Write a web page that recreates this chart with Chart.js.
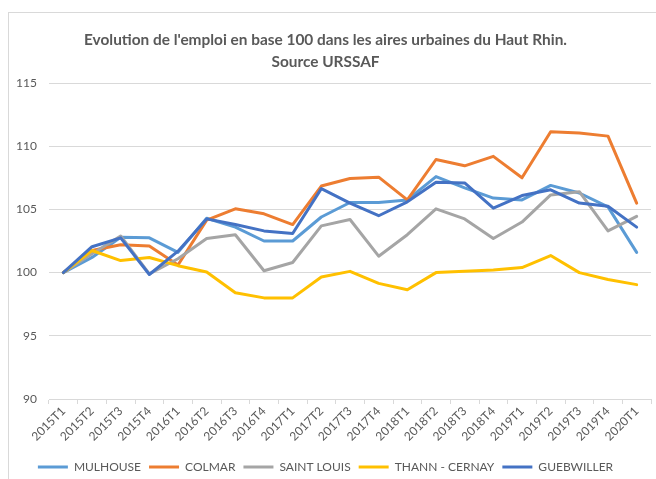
<!DOCTYPE html>
<html>
<head>
<meta charset="utf-8">
<script src="https://cdn.jsdelivr.net/npm/chart.js@4/dist/chart.umd.min.js"></script>
<style>
  html, body { margin: 0; padding: 0; background: #ffffff; }
  #wrap { width: 656px; height: 479px; position: relative; }
</style>
</head>
<body>
<div id="wrap"><canvas id="c" width="656" height="479"></canvas></div>
<script>
const categories = ['2015T1','2015T2','2015T3','2015T4','2016T1','2016T2','2016T3','2016T4','2017T1','2017T2','2017T3','2017T4','2018T1','2018T2','2018T3','2018T4','2019T1','2019T2','2019T3','2019T4','2020T1'];
const mulhouse   = [100, 101.2, 102.8, 102.75, 101.6, 104.3, 103.6, 102.5, 102.5, 104.4, 105.55, 105.55, 105.75, 107.6, 106.7, 105.9, 105.75, 106.9, 106.3, 105.2, 101.6];
const colmar     = [100, 101.75, 102.2, 102.1, 100.6, 104.15, 105.05, 104.65, 103.8, 106.85, 107.45, 107.55, 105.75, 108.95, 108.45, 109.2, 107.5, 111.15, 111.05, 110.8, 105.5];
const saintLouis = [100, 101.5, 102.9, 99.9, 101.1, 102.7, 103.0, 100.15, 100.8, 103.7, 104.2, 101.3, 103.0, 105.05, 104.25, 102.7, 104.0, 106.15, 106.4, 103.3, 104.45];
const thannCernay= [100, 101.75, 100.95, 101.2, 100.55, 100.05, 98.4, 98.0, 98.0, 99.65, 100.1, 99.15, 98.65, 100.0, 100.1, 100.2, 100.4, 101.35, 100.0, 99.45, 99.05];
const guebwiller = [100, 102.05, 102.75, 99.85, 101.7, 104.25, 103.8, 103.3, 103.1, 106.65, 105.5, 104.5, 105.6, 107.15, 107.1, 105.1, 106.1, 106.55, 105.5, 105.25, 103.6];
const seriesNames = ['MULHOUSE', 'COLMAR', 'SAINT LOUIS', 'THANN - CERNAY', 'GUEBWILLER'];
const titleLines = ["Evolution de l'emploi en base 100 dans les aires urbaines du Haut Rhin.", 'Source URSSAF'];

const colors = ['#5B9BD5', '#ED7D31', '#A5A5A5', '#FFC000', '#4472C4'];
const values = [mulhouse, colmar, saintLouis, thannCernay, guebwiller];
const FONT = 'Lato, "Open Sans", sans-serif';
const TXT = '#595959';
const GRID = '#d9d9d9';

const frame = {
  id: 'frame',
  beforeDraw(chart) {
    const ctx = chart.ctx;
    ctx.save();
    ctx.fillStyle = '#ffffff';
    ctx.fillRect(0, 0, chart.width, chart.height);
    ctx.strokeStyle = GRID;
    ctx.lineWidth = 1;
    ctx.strokeRect(8.5, 12.5, 700, 500);
    ctx.restore();
  }
};

new Chart(document.getElementById('c'), {
  type: 'line',
  data: {
    labels: categories,
    datasets: values.map((v, i) => ({
      label: seriesNames[i],
      data: v,
      borderColor: colors[i],
      backgroundColor: colors[i],
      borderWidth: 3,
      pointRadius: 0,
      pointHoverRadius: 0,
      tension: 0,
      fill: false,
      borderJoinStyle: 'round',
      borderCapStyle: 'round',
      order: values.length - i
    }))
  },
  options: {
    responsive: false,
    animation: false,
    devicePixelRatio: 1,
    layout: { padding: { left: 0, right: 5, top: 0, bottom: -4 } },
    plugins: {
      tooltip: { enabled: false },
      title: {
        display: true,
        text: titleLines,
        color: TXT,
        font: { family: FONT, size: 15.4, weight: 'bold', lineHeight: 1.42 },
        padding: { top: 29, bottom: 10.3 }
      },
      legend: {
        position: 'bottom',
        labels: {
          color: TXT,
          font: { family: FONT, size: 12 },
          usePointStyle: true,
          pointStyle: 'line',
          pointStyleWidth: 30,
          boxHeight: 12,
          padding: 8,
          sort: (a, b) => a.datasetIndex - b.datasetIndex
        }
      }
    },
    scales: {
      x: {
        offset: true,
        afterFit(s) { s.height = 54; },
        grid: { offset: true, drawOnChartArea: false, drawTicks: true, tickLength: 5, color: GRID },
        border: { display: true, color: GRID },
        ticks: {
          color: TXT,
          font: { family: FONT, size: 12 },
          maxRotation: 45,
          minRotation: 45,
          autoSkip: false,
          padding: 0
        }
      },
      y: {
        min: 90,
        max: 115,
        afterFit(s) { s.width = 49; },
        grid: { color: GRID, drawTicks: false },
        border: { display: false },
        ticks: {
          stepSize: 5,
          color: TXT,
          font: { family: FONT, size: 12 },
          padding: 12
        }
      }
    }
  },
  plugins: [frame]
});
</script>
</body>
</html>
